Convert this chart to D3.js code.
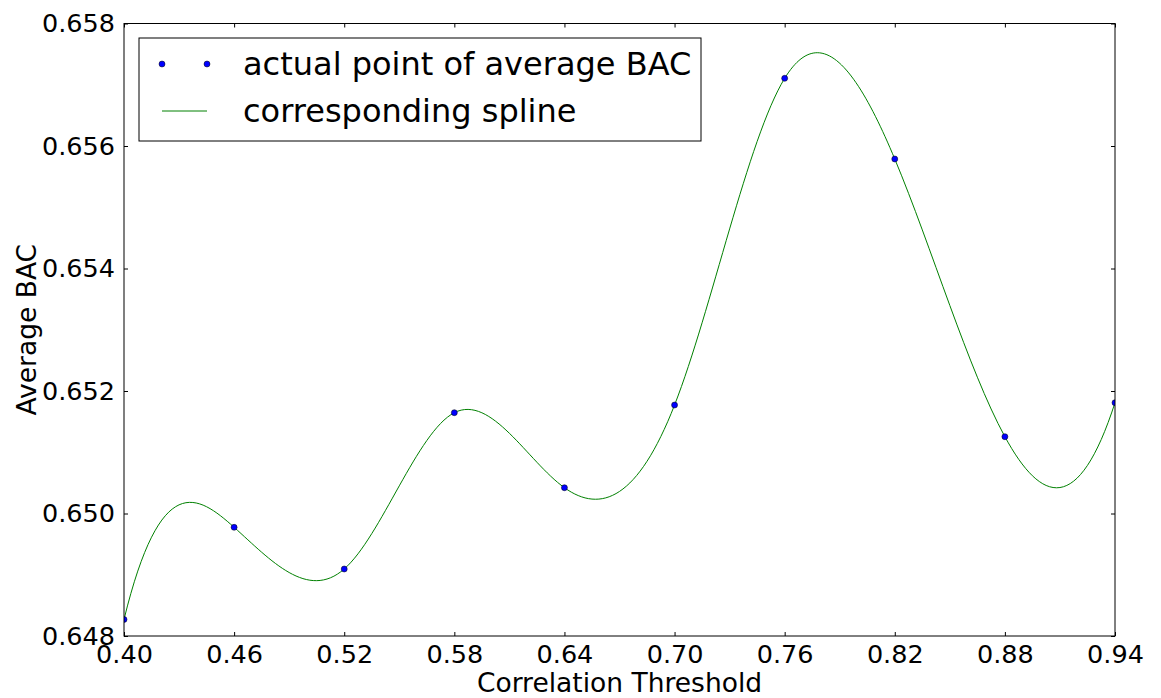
<!DOCTYPE html>
<html>
<head>
<meta charset="utf-8">
<script src="https://cdn.jsdelivr.net/npm/d3@7"></script>
<style>
  body { margin: 0; background: #fff; }
  svg text { font-family: "DejaVu Sans", sans-serif; fill: #000; }
</style>
</head>
<body>
<svg id="chart" width="1161" height="698"></svg>
<script>
// data
var thresholds = [0.40, 0.46, 0.52, 0.58, 0.64, 0.70, 0.76, 0.82, 0.88, 0.94];
var avgBac = [0.64827, 0.649775, 0.649094, 0.651646, 0.650421, 0.651771, 0.657105, 0.655788, 0.651254, 0.651809];
var xTicks = [0.40, 0.46, 0.52, 0.58, 0.64, 0.70, 0.76, 0.82, 0.88, 0.94];
var yTicks = [0.648, 0.650, 0.652, 0.654, 0.656, 0.658];
var legendLabels = ["actual point of average BAC", "corresponding spline"];

function solve(A, b) {
    var n = b.length, i, r, c;
    for (i = 0; i < n; i++) {
        var p = i;
        for (r = i + 1; r < n; r++) if (Math.abs(A[r][i]) > Math.abs(A[p][i])) p = r;
        var tmp = A[i]; A[i] = A[p]; A[p] = tmp;
        tmp = b[i]; b[i] = b[p]; b[p] = tmp;
        for (r = i + 1; r < n; r++) {
            var f = A[r][i] / A[i][i];
            if (!f) continue;
            for (c = i; c < n; c++) A[r][c] -= f * A[i][c];
            b[r] -= f * b[i];
        }
    }
    var s = new Array(n);
    for (i = n - 1; i >= 0; i--) {
        var acc = b[i];
        for (c = i + 1; c < n; c++) acc -= A[i][c] * s[c];
        s[i] = acc / A[i][i];
    }
    return s;
}

// "smoothest" cubic spline (old scipy.interpolate.spline): C2 interpolant
// that minimises the squared jumps of the third derivative at the knots
function Smoothest(context) { this._context = context; }
Smoothest.prototype = {
    areaStart: function () { this._line = 0; },
    areaEnd: function () { this._line = NaN; },
    lineStart: function () { this._x = []; this._y = []; },
    lineEnd: function () {
        var xs = this._x, ys = this._y, n = xs.length, ctx = this._context, i, j, k;
        if (n < 4) {
            ctx.moveTo(xs[0], ys[0]);
            for (k = 1; k < n; k++) ctx.lineTo(xs[k], ys[k]);
            return;
        }
        var h = [], m = [];
        for (i = 0; i < n - 1; i++) {
            h.push(xs[i + 1] - xs[i]);
            m.push((ys[i + 1] - ys[i]) / h[i]);
        }
        var ni = n - 2, N = n + ni;
        var Jm = [], jc = [], E = [], eb = [];
        for (i = 1; i < n - 1; i++) {
            var rowJ = new Array(n).fill(0), rowE = new Array(n).fill(0);
            var a = 6 / (h[i - 1] * h[i - 1]), bq = 6 / (h[i] * h[i]);
            rowJ[i - 1] = -a; rowJ[i] = bq - a; rowJ[i + 1] = bq;
            Jm.push(rowJ);
            jc.push(2 * bq * m[i] - 2 * a * m[i - 1]);
            rowE[i - 1] = h[i]; rowE[i] = 2 * (h[i - 1] + h[i]); rowE[i + 1] = h[i - 1];
            E.push(rowE);
            eb.push(3 * (h[i] * m[i - 1] + h[i - 1] * m[i]));
        }
        var K = [], rhs = [];
        for (i = 0; i < N; i++) { K.push(new Array(N).fill(0)); rhs.push(0); }
        for (i = 0; i < n; i++) {
            for (j = 0; j < n; j++) {
                var sum = 0;
                for (k = 0; k < ni; k++) sum += Jm[k][i] * Jm[k][j];
                K[i][j] = sum;
            }
            var sc = 0;
            for (k = 0; k < ni; k++) sc += Jm[k][i] * jc[k];
            rhs[i] = sc;
        }
        for (k = 0; k < ni; k++) {
            for (j = 0; j < n; j++) { K[n + k][j] = E[k][j]; K[j][n + k] = E[k][j]; }
            rhs[n + k] = eb[k];
        }
        var s = solve(K, rhs);
        ctx.moveTo(xs[0], ys[0]);
        for (i = 0; i < n - 1; i++) {
            var t = h[i] / 3;
            ctx.bezierCurveTo(xs[i] + t, ys[i] + s[i] * t,
                              xs[i + 1] - t, ys[i + 1] - s[i + 1] * t,
                              xs[i + 1], ys[i + 1]);
        }
    },
    point: function (x, y) { this._x.push(+x); this._y.push(+y); }
};
function curveSmoothest(context) { return new Smoothest(context); }

var margin = { top: 23.5, right: 46, bottom: 62, left: 124 };
var svg = d3.select("#chart");
var width = +svg.attr("width") - margin.left - margin.right;
var height = +svg.attr("height") - margin.top - margin.bottom;

var g = svg.append("g")
    .attr("transform", "translate(" + margin.left + "," + margin.top + ")");

var x = d3.scaleLinear().domain([0.40, 0.94]).range([0, width]);
var y = d3.scaleLinear().domain([0.648, 0.658]).range([height, 0]);

var data = thresholds.map(function (t, i) { return { t: t, v: avgBac[i] }; });

g.append("defs").append("clipPath")
    .attr("id", "clip")
    .append("rect")
    .attr("width", width)
    .attr("height", height);

// spline through the points
g.append("path")
    .datum(data)
    .attr("clip-path", "url(#clip)")
    .attr("fill", "none")
    .attr("stroke", "#008000")
    .attr("stroke-width", 1)
    .attr("d", d3.line()
        .curve(curveSmoothest)
        .x(function (d) { return x(d.t); })
        .y(function (d) { return y(d.v); }));

g.append("g")
    .attr("clip-path", "url(#clip)")
    .selectAll("circle")
    .data(data)
    .enter().append("circle")
    .attr("cx", function (d) { return x(d.t); })
    .attr("cy", function (d) { return y(d.v); })
    .attr("r", 3)
    .attr("fill", "#0000ff")
    .attr("stroke", "#000")
    .attr("stroke-width", 0.5);

// axes, matplotlib classic style: inward ticks on all sides
function styleAxis(sel) {
    sel.select(".domain").remove();
    sel.selectAll(".tick line").attr("stroke", "#000").attr("stroke-width", 1);
    sel.selectAll(".tick text").style("font-size", "25.5px");
}

g.append("g")
    .attr("transform", "translate(0," + height + ")")
    .call(d3.axisBottom(x).tickValues(xTicks).tickFormat(d3.format(".2f"))
        .tickSizeInner(-4).tickSizeOuter(0).tickPadding(9))
    .call(styleAxis);

g.append("g")
    .call(d3.axisTop(x).tickValues(xTicks).tickFormat("")
        .tickSizeInner(-4).tickSizeOuter(0))
    .call(styleAxis);

g.append("g")
    .call(d3.axisLeft(y).tickValues(yTicks).tickFormat(d3.format(".3f"))
        .tickSizeInner(-4).tickSizeOuter(0).tickPadding(9))
    .call(styleAxis);

g.append("g")
    .attr("transform", "translate(" + width + ",0)")
    .call(d3.axisRight(y).tickValues(yTicks).tickFormat("")
        .tickSizeInner(-4).tickSizeOuter(0))
    .call(styleAxis);

g.append("rect")
    .attr("width", width)
    .attr("height", height)
    .attr("fill", "none")
    .attr("stroke", "#000")
    .attr("stroke-width", 1);

svg.append("text")
    .attr("x", margin.left + width / 2)
    .attr("y", 692)
    .attr("text-anchor", "middle")
    .style("font-size", "26.5px")
    .text("Correlation Threshold");

svg.append("text")
    .attr("transform", "translate(36," + (margin.top + height / 2) + ") rotate(-90)")
    .attr("text-anchor", "middle")
    .style("font-size", "26.5px")
    .text("Average BAC");

// legend
var leg = svg.append("g").attr("transform", "translate(139,38)");

leg.append("rect")
    .attr("width", 562)
    .attr("height", 103)
    .attr("fill", "#fff")
    .attr("stroke", "#000")
    .attr("stroke-width", 1);

[23, 68].forEach(function (cx) {
    leg.append("circle")
        .attr("cx", cx).attr("cy", 26)
        .attr("r", 3)
        .attr("fill", "#0000ff")
        .attr("stroke", "#000")
        .attr("stroke-width", 0.5);
});

leg.append("line")
    .attr("x1", 23).attr("x2", 68)
    .attr("y1", 73).attr("y2", 73)
    .attr("stroke", "#008000")
    .attr("stroke-width", 1);

legendLabels.forEach(function (label, i) {
    leg.append("text")
        .attr("x", 104)
        .attr("y", 37 + i * 47)
        .style("font-size", "32px")
        .text(label);
});
</script>
</body>
</html>
